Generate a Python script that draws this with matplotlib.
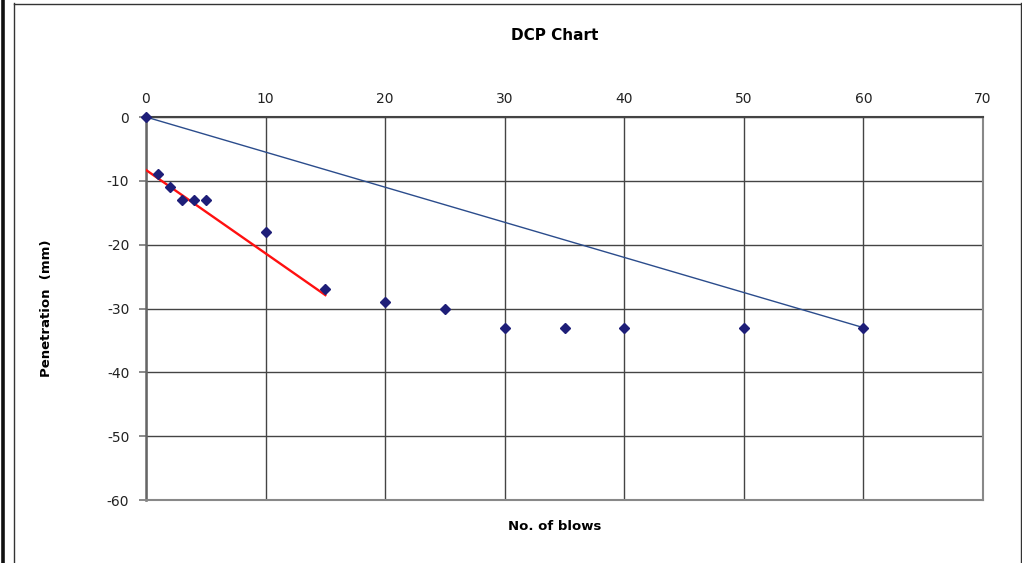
import matplotlib
matplotlib.use('Agg')
import matplotlib.pyplot as plt
from matplotlib.lines import Line2D

plt.rcParams['axes.unicode_minus'] = False

# data
blows = [0, 1, 2, 3, 4, 5, 10, 15, 20, 25, 30, 35, 40, 50, 60]
penetration = [0, -9, -11, -13, -13, -13, -18, -27, -29, -30, -33, -33, -33, -33, -33]
# overall line (first to last point) and the red early-trend line
overall_x = [0, 60]
overall_y = [0, -33]
trend_x = [0, 15]
trend_y = [-8.3, -27.9]

fig = plt.figure(figsize=(10.22, 5.63), dpi=100)
ax = fig.add_axes([146/1022, 1 - 500/563, 837/1022, 383/563])

ax.plot(overall_x, overall_y, color='#2B4C8C', lw=1, zorder=3)
ax.plot(trend_x, trend_y, color='#FF1010', lw=1.7, zorder=3)
ax.plot(blows, penetration, ls='none', marker='D', ms=5.5, color='#1E1E78', zorder=4, clip_on=False)

ax.set_xlim(0, 70)
ax.set_ylim(-60, 0)
ax.set_xticks(range(0, 71, 10))
ax.set_yticks(range(-60, 1, 10))
ax.xaxis.tick_top()
ax.tick_params(axis='x', length=0, labelsize=10, pad=8, colors='#222222')
ax.tick_params(axis='y', length=5, width=1.2, color='#777777', labelsize=10, pad=7, labelcolor='#222222')
ax.grid(True, color='#444444', lw=1)
ax.set_axisbelow(True)
for side in ['top', 'bottom', 'right']:
    ax.spines[side].set_color('#888888')
    ax.spines[side].set_linewidth(1.5)
ax.spines['left'].set_color('#666666')
ax.spines['left'].set_linewidth(1.8)
ax.spines['top'].set_color('#444444')

fig.text(555/1022, 1 - 36/563, 'DCP Chart', ha='center', va='center', fontsize=11, fontweight='bold')
fig.text(555/1022, 1 - 527/563, 'No. of blows', ha='center', va='center', fontsize=9.5, fontweight='bold')
fig.text(47/1022, 1 - 308/563, 'Penetration  (mm)', ha='center', va='center', rotation=90,
         fontsize=9.5, fontweight='bold')

# chart frame lines
fig.add_artist(Line2D([3/1022, 3/1022], [0, 1], color='#111111', lw=2.6))
fig.add_artist(Line2D([13.5/1022, 13.5/1022], [0, 1 - 3/563], color='#333333', lw=1))
fig.add_artist(Line2D([13.5/1022, 1021/1022], [1 - 3.5/563, 1 - 3.5/563], color='#333333', lw=1))
fig.add_artist(Line2D([1021/1022, 1021/1022], [0, 1 - 3/563], color='#333333', lw=1))

fig.savefig('out.png', dpi=100)
